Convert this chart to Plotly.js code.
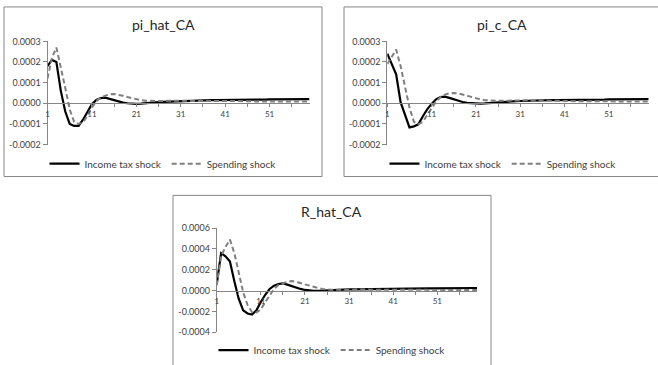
<!DOCTYPE html>
<html>
<head>
<meta charset="utf-8">
<script src="https://cdn.plot.ly/plotly-3.0.1.min.js"></script>
<style>html,body{margin:0;padding:0;background:#fff;}#chart{width:658px;height:365px;}</style>
</head>
<body>
<div id="chart"></div>
<script>
// ---- data ----
const periods = Array.from({length: 60}, (_, i) => i + 1);
const seriesNames = ["Income tax shock", "Spending shock"];
const panelTitles = ["pi_hat_CA", "pi_c_CA", "R_hat_CA"];

const piHatIncome = [0.00018, 0.00021, 0.00020, 0.00006, -0.00004, -0.00010, -0.00011, -0.00011, -0.00008, -0.00004,
  -0.000005, 0.000016, 0.000025, 0.000027, 0.000021, 0.000014, 0.000008, 0.000003, 0.000000, -0.000002,
  -0.000003, -0.000002, -0.000001, 0.000001, 0.000003, 0.000005, 0.000007, 0.000008, 0.000009, 0.000010,
  0.000011, 0.000012, 0.000012, 0.000013, 0.000013, 0.000014, 0.000014, 0.000015, 0.000015, 0.000015,
  0.000016, 0.000016, 0.000016, 0.000017, 0.000017, 0.000017, 0.000018, 0.000018, 0.000018, 0.000018,
  0.000019, 0.000019, 0.000019, 0.000019, 0.000019, 0.000020, 0.000020, 0.000020, 0.000020, 0.000020];
const piHatSpending = [0.00012, 0.00022, 0.00027, 0.00018, 0.000075, -0.00003, -0.00009, -0.00010, -0.000095, -0.00006,
  -0.00002, 0.000011, 0.000027, 0.000037, 0.000043, 0.000045, 0.000042, 0.000036, 0.000030, 0.000024,
  0.000019, 0.000015, 0.000012, 0.000011, 0.000010, 0.000010, 0.000011, 0.000012, 0.000012, 0.000013,
  0.000013, 0.000013, 0.000013, 0.000013, 0.000012, 0.000012, 0.000012, 0.000012, 0.000011, 0.000011,
  0.000011, 0.000011, 0.000010, 0.000010, 0.000010, 0.000010, 0.000010, 0.000009, 0.000009, 0.000009,
  0.000009, 0.000009, 0.000009, 0.000008, 0.000008, 0.000008, 0.000008, 0.000008, 0.000008, 0.000008];

const piCIncome = [0.00024, 0.00019, 0.00014, 0.000005, -0.00006, -0.000117, -0.000112, -0.000102, -0.000064, -0.00003,
  -0.000003, 0.000019, 0.000030, 0.000032, 0.000026, 0.000019, 0.000013, 0.000006, 0.000002, 0.000000,
  -0.000002, -0.000002, -0.000001, 0.000001, 0.000003, 0.000005, 0.000007, 0.000008, 0.000009, 0.000010,
  0.000011, 0.000012, 0.000012, 0.000013, 0.000013, 0.000014, 0.000014, 0.000015, 0.000015, 0.000015,
  0.000016, 0.000016, 0.000016, 0.000017, 0.000017, 0.000017, 0.000018, 0.000018, 0.000018, 0.000018,
  0.000019, 0.000019, 0.000019, 0.000019, 0.000019, 0.000020, 0.000020, 0.000020, 0.000020, 0.000020];
const piCSpending = [0.00019, 0.000225, 0.00026, 0.00018, 0.000075, -0.00002, -0.00009, -0.000102, -0.00009, -0.000058,
  -0.000025, 0.000008, 0.000030, 0.000042, 0.000048, 0.000050, 0.000048, 0.000042, 0.000035, 0.000029,
  0.000024, 0.000019, 0.000015, 0.000013, 0.000012, 0.000012, 0.000012, 0.000013, 0.000013, 0.000014,
  0.000014, 0.000014, 0.000014, 0.000013, 0.000013, 0.000013, 0.000012, 0.000012, 0.000012, 0.000011,
  0.000011, 0.000011, 0.000011, 0.000010, 0.000010, 0.000010, 0.000010, 0.000010, 0.000009, 0.000009,
  0.000009, 0.000009, 0.000009, 0.000009, 0.000008, 0.000008, 0.000008, 0.000008, 0.000008, 0.000008];

const rHatIncome = [0.00006, 0.00036, 0.00033, 0.00028, 0.00009, -0.00008, -0.00019, -0.00022, -0.00023, -0.00019,
  -0.00011, -0.00004, 0.000016, 0.000047, 0.000063, 0.000070, 0.000057, 0.000041, 0.000028, 0.000016,
  0.000006, 0.000000, -0.000002, -0.000003, -0.000002, 0.000000, 0.000003, 0.000005, 0.000007, 0.000009,
  0.000011, 0.000012, 0.000013, 0.000014, 0.000015, 0.000016, 0.000017, 0.000017, 0.000018, 0.000018,
  0.000019, 0.000019, 0.000020, 0.000020, 0.000021, 0.000021, 0.000021, 0.000022, 0.000022, 0.000022,
  0.000023, 0.000023, 0.000023, 0.000023, 0.000024, 0.000024, 0.000024, 0.000024, 0.000025, 0.000025];
const rHatSpending = [0.00005, 0.00033, 0.00042, 0.00049, 0.00036, 0.00017, -0.000016, -0.00014, -0.000205, -0.00021,
  -0.00018, -0.00011, -0.000047, 0.000016, 0.000054, 0.000073, 0.000085, 0.000092, 0.000085, 0.000073,
  0.000060, 0.000047, 0.000035, 0.000025, 0.000016, 0.000010, 0.000008, 0.000008, 0.000009, 0.000010,
  0.000010, 0.000010, 0.000010, 0.000010, 0.000010, 0.000009, 0.000009, 0.000009, 0.000009, 0.000009,
  0.000008, 0.000008, 0.000008, 0.000008, 0.000008, 0.000007, 0.000007, 0.000007, 0.000007, 0.000007,
  0.000006, 0.000006, 0.000006, 0.000006, 0.000006, 0.000006, 0.000005, 0.000005, 0.000005, 0.000005];

const xTickVals = [1, 6, 11, 16, 21, 26, 31, 36, 41, 46, 51, 56];
const xTickLabels = ["1", "", "11", "", "21", "", "31", "", "41", "", "51", ""];
const yTickValsPi = [-0.0002, -0.0001, 0, 0.0001, 0.0002, 0.0003];
const yTickLabelsPi = ["-0.0002", "-0.0001", "0.0000", "0.0001", "0.0002", "0.0003"];
const yTickValsR = [-0.0004, -0.0002, 0, 0.0002, 0.0004, 0.0006];
const yTickLabelsR = ["-0.0004", "-0.0002", "0.0000", "0.0002", "0.0004", "0.0006"];

// ---- layout helpers ----
const W = 658, H = 365;
const FONT = "Lato, 'Open Sans', sans-serif";
const px = v => v / W;
const py = v => 1 - v / H;
const AXC = "#868686";

const panels = [
  {title: panelTitles[0], inc: piHatIncome, spd: piHatSpending, yv: yTickValsPi, yt: yTickLabelsPi,
   xd: [px(47.5), px(309.5)], yd: [py(145.7), py(41.7)], box: [4, 322, 7, 178], tx: 163, ty: 25, ly: 165},
  {title: panelTitles[1], inc: piCIncome, spd: piCSpending, yv: yTickValsPi, yt: yTickLabelsPi,
   xd: [px(387.3), px(648.7)], yd: [py(145.7), py(41.7)], box: [344, 662, 7, 178], tx: 502, ty: 25, ly: 165},
  {title: panelTitles[2], inc: rHatIncome, spd: rHatSpending, yv: yTickValsR, yt: yTickLabelsR,
   xd: [px(216.7), px(477)], yd: [py(335), py(230)], box: [173, 491, 197, 370], tx: 331, ty: 213, ly: 353}
];

const data = [];
const layout = {
  width: W, height: H, margin: {l: 0, r: 0, t: 0, b: 0},
  paper_bgcolor: "#fff", plot_bgcolor: "rgba(0,0,0,0)",
  font: {family: FONT, color: "#404040"},
  shapes: [], annotations: []
};

panels.forEach((p, i) => {
  const n = i === 0 ? "" : String(i + 1);
  const xa = "x" + n, ya = "y" + n, lg = "legend" + n;
  data.push({x: periods, y: p.inc, xaxis: xa, yaxis: ya, type: "scatter", mode: "lines",
    name: seriesNames[0], legend: lg, line: {color: "#000000", width: 2.2}});
  data.push({x: periods, y: p.spd, xaxis: xa, yaxis: ya, type: "scatter", mode: "lines",
    name: seriesNames[1], legend: lg, line: {color: "#7f7f7f", width: 2, dash: "5px,3px"}});
  const ymin = p.yv[0], ymax = p.yv[p.yv.length - 1];
  const zeroPos = p.yd[0] + (0 - ymin) / (ymax - ymin) * (p.yd[1] - p.yd[0]);
  layout["xaxis" + n] = {domain: p.xd, range: [1, 60], anchor: "free", position: zeroPos,
    showline: true, linecolor: AXC, linewidth: 1, ticks: "outside", ticklen: 3, tickcolor: AXC,
    tickvals: xTickVals, ticktext: xTickLabels, tickfont: {size: 8, color: "#404040"},
    showgrid: false, zeroline: false, fixedrange: true};
  layout["yaxis" + n] = {domain: p.yd, range: [ymin, ymax], anchor: xa,
    showline: true, linecolor: AXC, linewidth: 1, ticks: "outside", ticklen: 4, tickcolor: AXC,
    tickvals: p.yv, ticktext: p.yt, tickfont: {size: 9, color: "#404040"},
    showgrid: false, zeroline: false, fixedrange: true};
  layout[lg] = {orientation: "h", x: px((p.box[0] + p.box[1]) / 2), xanchor: "center",
    y: py(p.ly), yanchor: "middle", font: {size: 10, family: FONT, color: "#404040"},
    bgcolor: "rgba(0,0,0,0)", itemwidth: 30, tracegroupgap: 0};
  layout.shapes.push({type: "rect", xref: "paper", yref: "paper",
    x0: px(p.box[0]), x1: px(p.box[1]), y0: py(p.box[3]), y1: py(p.box[2]),
    line: {color: AXC, width: 1}, fillcolor: "rgba(0,0,0,0)", layer: "below"});
  layout.annotations.push({xref: "paper", yref: "paper", x: px(p.tx), y: py(p.ty),
    xanchor: "center", yanchor: "middle", showarrow: false, text: p.title,
    font: {size: 14, family: FONT, color: "#262626"}});
});

Plotly.newPlot("chart", data, layout, {displayModeBar: false, staticPlot: true});
</script>
</body>
</html>
